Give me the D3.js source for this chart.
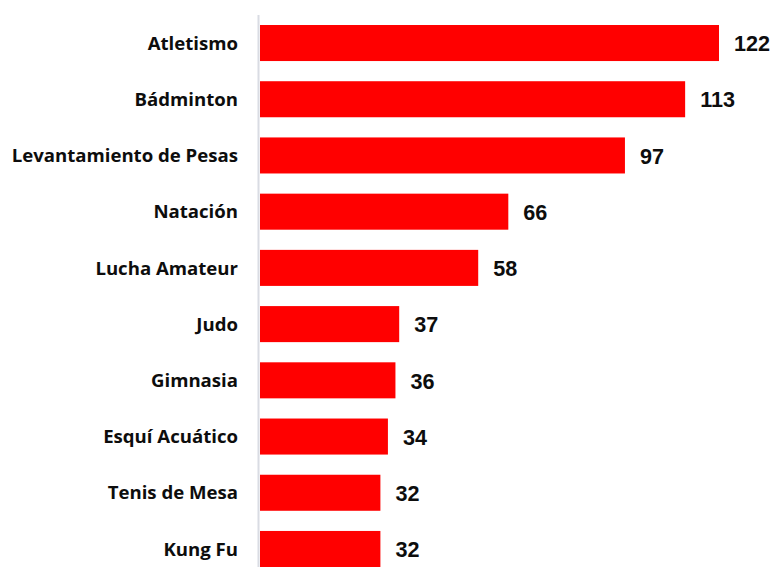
<!DOCTYPE html>
<html>
<head>
<meta charset="utf-8">
<script src="https://cdn.jsdelivr.net/npm/d3@7"></script>
<style>
  body { margin: 0; background: white; }
  svg { display: block; }
</style>
</head>
<body>
<svg id="chart" width="772" height="567"></svg>
<script>
const SPORTS = ['Atletismo', 'Bádminton', 'Levantamiento de Pesas', 'Natación', 'Lucha Amateur',
  'Judo', 'Gimnasia', 'Esquí Acuático', 'Tenis de Mesa', 'Kung Fu'];
const MEDALS = [122, 113, 97, 66, 58, 37, 36, 34, 32, 32];

const width = 772;
const height = 567;
const margin = { top: 15, left: 260 };

const svg = d3.select('#chart');

const x = d3.scaleLinear()
  .domain([0, 122])
  .range([margin.left, 719]);

const y = d3.scaleBand()
  .domain(SPORTS)
  .range([15, 577])
  .paddingInner(0.359)
  .paddingOuter(0.178);

// vertical axis line
svg.append('line')
  .attr('x1', margin.left - 1.5)
  .attr('x2', margin.left - 1.5)
  .attr('y1', margin.top)
  .attr('y2', height)
  .attr('stroke', '#d9dce3')
  .attr('stroke-width', 2);

const rows = svg.selectAll('g.row')
  .data(SPORTS.map((s, i) => ({ sport: s, value: MEDALS[i] })))
  .join('g')
  .attr('class', 'row');

rows.append('rect')
  .attr('x', x(0))
  .attr('y', d => y(d.sport))
  .attr('width', d => x(d.value) - x(0))
  .attr('height', y.bandwidth())
  .attr('fill', '#ff0000');

rows.append('text')
  .attr('x', 238)
  .attr('y', d => y(d.sport) + y.bandwidth() / 2)
  .attr('dy', '0.36em')
  .attr('text-anchor', 'end')
  .style('font-family', '"Open Sans", sans-serif')
  .style('font-weight', 'bold')
  .style('font-size', '18.6px')
  .style('fill', '#0d0d0d')
  .text(d => d.sport);

rows.append('text')
  .attr('x', d => x(d.value) + 15)
  .attr('y', d => y(d.sport) + y.bandwidth() / 2)
  .attr('dy', '0.38em')
  .style('font-family', '"Liberation Sans", Arial, sans-serif')
  .style('font-weight', 'bold')
  .style('font-size', '21.6px')
  .style('fill', '#0d0d0d')
  .text(d => d.value);
</script>
</body>
</html>
